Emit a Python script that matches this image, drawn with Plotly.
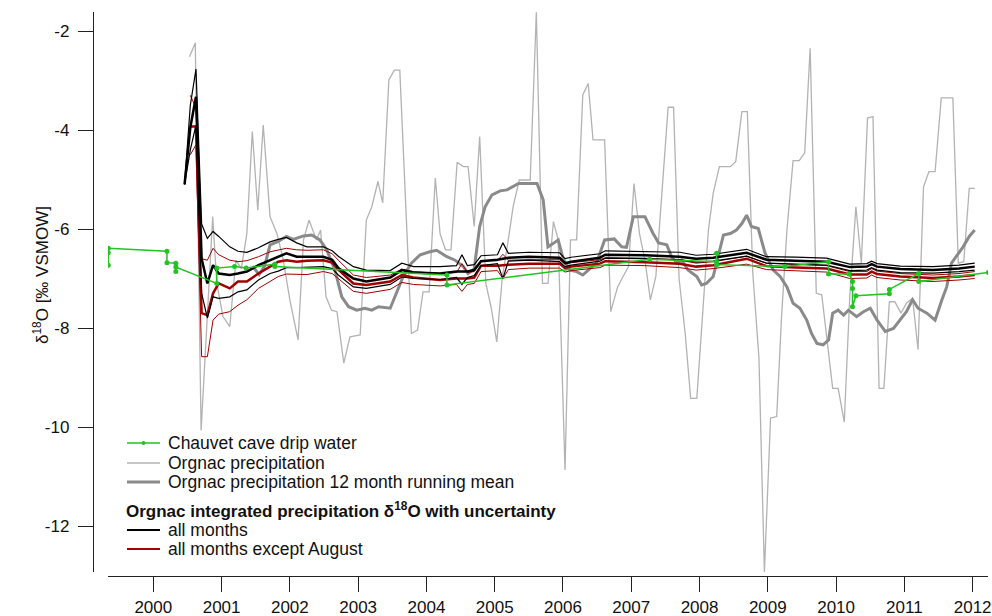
import plotly.graph_objects as go

# ---------------- data ----------------
# Orgnac monthly precipitation d18O (light grey)
P_X = [2000.53, 2000.615, 2000.70, 2000.78, 2000.87, 2000.93, 2001.02, 2001.12, 2001.21, 2001.29, 2001.37,
       2001.45, 2001.53, 2001.61, 2001.71, 2001.81, 2001.90, 2002.00, 2002.12, 2002.20, 2002.28, 2002.39,
       2002.45, 2002.53, 2002.61, 2002.69, 2002.79, 2002.88, 2003.03, 2003.12, 2003.20, 2003.29, 2003.36,
       2003.45, 2003.53, 2003.61, 2003.78, 2003.87, 2003.95, 2004.04, 2004.13, 2004.20, 2004.28, 2004.36,
       2004.45, 2004.54, 2004.61, 2004.70, 2004.78, 2004.87, 2004.95, 2005.03, 2005.11, 2005.19, 2005.27,
       2005.36, 2005.52, 2005.61, 2005.70, 2005.78, 2005.86, 2005.93, 2006.03, 2006.11, 2006.20, 2006.29,
       2006.37, 2006.44, 2006.61, 2006.70, 2006.80, 2006.88, 2006.96, 2007.04, 2007.12, 2007.20, 2007.28,
       2007.36, 2007.45, 2007.54, 2007.62, 2007.70, 2007.79, 2007.87, 2007.96, 2008.05, 2008.13, 2008.20,
       2008.29, 2008.45, 2008.53, 2008.62, 2008.70, 2008.78, 2008.87, 2008.95, 2009.04, 2009.13, 2009.20,
       2009.28, 2009.37, 2009.46, 2009.54, 2009.62, 2009.71, 2009.79, 2009.87, 2009.95, 2010.03, 2010.12,
       2010.20, 2010.29, 2010.37, 2010.46, 2010.54, 2010.63, 2010.70, 2010.78, 2010.86, 2010.95, 2011.03,
       2011.12, 2011.20, 2011.28, 2011.36, 2011.45, 2011.54, 2011.71, 2011.79, 2011.87, 2011.95, 2012.03]
P_Y = [-2.52, -2.24, -10.07, -7.97, -5.75, -7.10, -7.77, -7.97, -6.63, -6.80, -6.09,
       -4.03, -5.62, -3.90, -5.75, -6.09, -6.60, -7.43, -8.24, -6.22, -5.82, -6.22,
       -6.02, -7.37, -7.64, -7.67, -8.71, -8.18, -8.14, -5.82, -5.55, -5.04, -5.47,
       -2.99, -2.79, -2.79, -8.11, -8.04, -7.27, -7.27, -4.97, -6.10, -6.42, -6.42,
       -4.65, -4.74, -4.74, -5.95, -4.13, -7.10, -7.60, -8.28, -7.00, -6.30, -5.55,
       -5.01, -5.01, -1.62, -7.10, -7.10, -5.85, -6.22, -10.87, -6.22, -6.22, -3.29,
       -3.06, -4.20, -4.20, -7.67, -7.17, -6.96, -6.76, -5.08, -6.09, -6.63, -7.43,
       -6.96, -5.20, -3.54, -3.54, -7.00, -8.11, -9.42, -9.42, -7.64, -6.02, -5.28,
       -4.74, -4.74, -4.64, -3.63, -3.63, -6.89, -8.60, -12.93, -9.82, -9.79, -7.80,
       -6.02, -4.62, -4.62, -4.46, -2.35, -7.30, -7.33, -8.30, -9.22, -9.22, -9.90,
       -7.37, -5.55, -6.69, -3.76, -3.73, -9.22, -9.22, -7.47, -7.47, -7.70, -7.50,
       -7.40, -8.44, -5.15, -4.84, -4.84, -3.35, -3.35, -6.69, -6.66, -5.18, -5.18]

# 12 month running mean (thick grey)
RM_X = [2001.45, 2001.55, 2001.63, 2001.71, 2001.83, 2001.95, 2002.05, 2002.20, 2002.32, 2002.44, 2002.54,
        2002.66, 2002.76, 2002.86, 2002.98, 2003.10, 2003.20, 2003.30, 2003.47, 2003.56, 2003.66, 2003.78,
        2003.91, 2004.05, 2004.15, 2004.30, 2004.42, 2004.54, 2004.61, 2004.70, 2004.78, 2004.86, 2004.96,
        2005.08, 2005.18, 2005.35, 2005.62, 2005.71, 2005.78, 2005.86, 2005.93, 2006.00, 2006.10, 2006.20,
        2006.29, 2006.37, 2006.49, 2006.61, 2006.75, 2006.86, 2006.93, 2007.03, 2007.20, 2007.32, 2007.40,
        2007.52, 2007.59, 2007.67, 2007.74, 2007.83, 2007.96, 2008.03, 2008.10, 2008.20, 2008.35, 2008.45,
        2008.54, 2008.62, 2008.69, 2008.76, 2008.86, 2008.96, 2009.08, 2009.18, 2009.28, 2009.37, 2009.47,
        2009.57, 2009.64, 2009.72, 2009.81, 2009.89, 2009.95, 2010.03, 2010.11, 2010.18, 2010.30, 2010.40,
        2010.50, 2010.60, 2010.72, 2010.84, 2010.94, 2011.03, 2011.12, 2011.20, 2011.33, 2011.45, 2011.55,
        2011.62, 2011.69, 2011.79, 2011.86, 2011.95, 2012.03]
RM_Y = [-6.75, -6.92, -6.75, -6.32, -6.25, -6.15, -6.21, -6.14, -6.12, -6.22, -6.42,
        -6.83, -7.37, -7.57, -7.64, -7.60, -7.64, -7.57, -7.60, -7.30, -6.96, -6.69,
        -6.52, -6.46, -6.43, -6.56, -6.63, -6.76, -6.90, -6.80, -5.95, -5.55, -5.31,
        -5.23, -5.21, -5.08, -5.08, -5.41, -6.36, -6.29, -6.22, -6.59, -6.83, -6.86,
        -6.93, -6.83, -6.69, -6.22, -6.20, -6.36, -6.37, -5.75, -5.75, -6.09, -6.28,
        -6.32, -6.56, -6.69, -6.63, -6.83, -6.96, -7.13, -7.10, -6.96, -6.12, -6.09,
        -6.02, -5.89, -5.72, -5.95, -5.99, -6.49, -6.83, -6.96, -7.17, -7.50, -7.60,
        -7.84, -8.11, -8.31, -8.34, -8.24, -7.70, -7.64, -7.74, -7.64, -7.77, -7.67,
        -7.60, -7.84, -8.07, -8.01, -7.84, -7.67, -7.43, -7.60, -7.70, -7.84, -7.43,
        -7.17, -6.69, -6.49, -6.36, -6.15, -6.02]

# integrated precipitation d18O (all months: black, except August: red) with uncertainty
INT_X = [2000.458, 2000.542, 2000.625, 2000.708, 2000.792, 2000.875, 2000.958, 2001.12, 2001.24, 2001.37, 2001.54,
         2001.71, 2001.83, 2001.95, 2002.10, 2002.25, 2002.49, 2002.62, 2002.71, 2002.93, 2003.12, 2003.47,
         2003.64, 2003.81, 2004.20, 2004.44, 2004.52, 2004.60, 2004.70, 2004.80, 2005.04, 2005.12, 2005.20,
         2005.50, 2005.95, 2006.03, 2006.12, 2006.54, 2006.62, 2007.20, 2007.71, 2007.95, 2008.20, 2008.69,
         2008.98, 2009.40, 2009.86, 2010.20, 2010.45, 2010.52, 2010.60, 2010.94, 2011.42, 2011.80, 2012.03]
ALL_MEAN = [-5.10, -3.95, -3.33, -6.60, -7.10, -6.73, -6.90, -6.93, -6.90, -6.86, -6.73,
            -6.63, -6.55, -6.49, -6.56, -6.56, -6.56, -6.62, -6.79, -7.00, -7.06, -6.98,
            -6.83, -6.88, -6.90, -6.86, -6.86, -6.86, -6.83, -6.65, -6.62, -6.60, -6.58,
            -6.56, -6.58, -6.69, -6.66, -6.58, -6.52, -6.53, -6.56, -6.60, -6.58, -6.48,
            -6.62, -6.64, -6.66, -6.77, -6.76, -6.71, -6.76, -6.81, -6.83, -6.80, -6.76]
ALL_UP = [-5.10, -3.50, -2.77, -5.90, -6.19, -6.05, -6.15, -6.36, -6.45, -6.47, -6.38,
          -6.26, -6.21, -6.17, -6.28, -6.36, -6.36, -6.44, -6.55, -6.76, -6.83, -6.84,
          -6.69, -6.76, -6.76, -6.74, -6.52, -6.74, -6.72, -6.54, -6.52, -6.28, -6.49,
          -6.47, -6.48, -6.60, -6.57, -6.50, -6.44, -6.45, -6.47, -6.53, -6.51, -6.41,
          -6.56, -6.57, -6.59, -6.71, -6.70, -6.65, -6.70, -6.75, -6.76, -6.73, -6.69]
ALL_LO = [-5.10, -4.40, -3.90, -7.30, -7.80, -7.37, -7.40, -7.37, -7.27, -7.23, -7.03,
          -6.90, -6.85, -6.78, -6.78, -6.77, -6.76, -6.80, -6.93, -7.17, -7.20, -7.12,
          -6.97, -7.00, -7.02, -6.98, -7.12, -6.98, -6.94, -6.74, -6.70, -7.00, -6.65,
          -6.63, -6.66, -6.76, -6.73, -6.65, -6.59, -6.60, -6.62, -6.67, -6.65, -6.55,
          -6.69, -6.71, -6.73, -6.84, -6.83, -6.78, -6.83, -6.88, -6.89, -6.86, -6.83]
NOAUG_MEAN = [None, -3.93, -3.93, -7.70, -7.74, -7.30, -7.10, -7.20, -7.06, -7.06, -6.90,
              -6.76, -6.66, -6.63, -6.66, -6.64, -6.63, -6.68, -6.82, -7.10, -7.13, -7.06,
              -6.93, -6.98, -7.03, -7.00, -7.00, -7.00, -6.98, -6.74, -6.74, -6.73, -6.72,
              -6.70, -6.70, -6.79, -6.76, -6.70, -6.65, -6.67, -6.70, -6.76, -6.73, -6.60,
              -6.75, -6.78, -6.80, -6.92, -6.92, -6.86, -6.91, -6.96, -6.99, -6.96, -6.93]
NOAUG_UP = [None, -3.30, -3.55, -6.60, -6.63, -6.39, -6.52, -6.63, -6.66, -6.64, -6.56,
            -6.46, -6.42, -6.39, -6.42, -6.43, -6.42, -6.50, -6.63, -6.93, -6.98, -6.93,
            -6.81, -6.86, -6.90, -6.88, -6.70, -6.88, -6.86, -6.64, -6.64, -6.51, -6.63,
            -6.62, -6.62, -6.71, -6.68, -6.62, -6.58, -6.59, -6.63, -6.69, -6.66, -6.55,
            -6.69, -6.72, -6.74, -6.86, -6.86, -6.80, -6.85, -6.90, -6.93, -6.90, -6.86]
NOAUG_LO = [None, -4.50, -4.30, -8.58, -8.58, -7.84, -7.72, -7.67, -7.54, -7.43, -7.20,
            -7.06, -6.96, -6.91, -6.92, -6.92, -6.86, -6.90, -7.00, -7.26, -7.30, -7.22,
            -7.08, -7.12, -7.15, -7.12, -7.26, -7.12, -7.10, -6.86, -6.84, -7.00, -6.82,
            -6.79, -6.79, -6.87, -6.84, -6.78, -6.73, -6.74, -6.78, -6.83, -6.80, -6.71,
            -6.82, -6.85, -6.87, -7.00, -6.99, -6.93, -6.98, -7.03, -7.06, -7.03, -7.00]

# Chauvet cave drip water (green)
CH_X = [1999.34, 1999.34, 1999.34, 2000.20, 2000.20, 2000.33, 2000.33, 2000.33, 2000.93, 2000.93, 2001.19,
        2001.36, 2001.78, 2001.78, 2004.30, 2004.30, 2007.27, 2008.25, 2008.25, 2008.25, 2009.25, 2009.89,
        2009.89, 2010.19, 2010.24, 2010.24, 2010.24, 2010.29, 2010.78, 2010.78, 2011.21, 2011.21, 2012.23]
CH_Y = [-6.73, -6.48, -6.39, -6.45, -6.68, -6.69, -6.86, -6.77, -7.10, -6.79, -6.76,
        -6.79, -6.71, -6.76, -6.93, -7.13, -6.61, -6.66, -6.49, -6.72, -6.76, -6.66,
        -6.91, -6.91, -7.06, -7.20, -7.57, -7.35, -7.31, -7.22, -6.90, -7.06, -6.88]

YEAR_TICKS = list(range(2000, 2013))
Y_TICKS = [-2, -4, -6, -8, -10, -12]

LEGEND_MAIN = ["Chauvet cave drip water", "Orgnac precipitation",
               "Orgnac precipitation 12 month running mean"]
LEGEND_HEAD = "<b>Orgnac integrated precipitation δ<sup>18</sup>O with uncertainty</b>"
LEGEND_SUB = ["all months", "all months except August"]

# ---------------- style ----------------
GREEN = "#22c322"
LGREY = "#b3b3b3"
DGREY = "#8a8a8a"
BLACK = "#000000"
RED = "#a00000"
FONT = "Liberation Sans, Arial, sans-serif"
TXT = "#111111"

W, H = 992, 616
ML, MR, MT, MB = 93, 4, 12, 40
PW, PH = W - ML - MR, H - MT - MB


def px(xp):
    return (xp - ML) / PW


def py(yp):
    return (H - MB - yp) / PH


fig = go.Figure()
fig.add_trace(go.Scatter(x=P_X, y=P_Y, mode="lines", line=dict(color=LGREY, width=1.3), showlegend=False))
fig.add_trace(go.Scatter(x=RM_X, y=RM_Y, mode="lines", line=dict(color=DGREY, width=3), showlegend=False))
for arr in (NOAUG_UP, NOAUG_LO):
    fig.add_trace(go.Scatter(x=INT_X, y=arr, mode="lines", line=dict(color=RED, width=1), showlegend=False))
fig.add_trace(go.Scatter(x=INT_X, y=NOAUG_MEAN, mode="lines", line=dict(color=RED, width=2.5), showlegend=False))
for arr in (ALL_UP, ALL_LO):
    fig.add_trace(go.Scatter(x=INT_X, y=arr, mode="lines", line=dict(color=BLACK, width=1.2), showlegend=False))
fig.add_trace(go.Scatter(x=INT_X, y=ALL_MEAN, mode="lines", line=dict(color=BLACK, width=2.5), showlegend=False))
fig.add_trace(go.Scatter(x=CH_X, y=CH_Y, mode="lines+markers", line=dict(color=GREEN, width=1.5),
                         marker=dict(color=GREEN, size=5, symbol="circle"), showlegend=False))

# axes span the data extent (Igor style, detached axes)
x0 = 2000 + (108 - 153.3) / 68.28
x1 = 2000 + (988 - 153.3) / 68.28
y_top = -2 + (31 - 12) / 49.5
y_bot = -2 - (572 - 31) / 49.5

fig.update_layout(
    width=W, height=H,
    margin=dict(l=ML, r=MR, t=MT, b=MB, autoexpand=False),
    paper_bgcolor="white", plot_bgcolor="white",
    font=dict(family=FONT, size=17, color=TXT),
    showlegend=False,
    xaxis=dict(domain=[(108 - ML) / PW, 1], range=[x0, x1], anchor="free", position=0,
               tickvals=YEAR_TICKS, ticktext=[str(v) for v in YEAR_TICKS],
               showline=True, linecolor="#222222", linewidth=1.3, ticks="outside", ticklen=15,
               tickwidth=1.3, tickcolor="#222222", showgrid=False, zeroline=False,
               tickfont=dict(size=17, family=FONT, color=TXT), automargin=False),
    yaxis=dict(domain=[4 / PH, 1], range=[y_bot, y_top], anchor="free", position=0,
               tickvals=Y_TICKS, ticktext=[str(v) for v in Y_TICKS],
               showline=True, linecolor="#222222", linewidth=1.3, ticks="outside", ticklen=15,
               tickwidth=1.3, tickcolor="#222222", showgrid=False, zeroline=False,
               ticklabelstandoff=5,
               tickfont=dict(size=17, family=FONT, color=TXT), automargin=False),
)

# y-axis title
fig.add_annotation(text="δ<sup>18</sup>O [‰ VSMOW]", xref="paper", yref="paper",
                   x=px(28), y=py(275), textangle=-90, showarrow=False,
                   font=dict(size=17, family=FONT, color=TXT))

# custom legend
rows = [443, 463, 482]
styles = [(GREEN, 1.5), (LGREY, 1.3), (DGREY, 3)]
for (col, w), yy, label in zip(styles, rows, LEGEND_MAIN):
    fig.add_shape(type="line", xref="paper", yref="paper", x0=px(127), x1=px(160), y0=py(yy), y1=py(yy),
                  line=dict(color=col, width=w))
    fig.add_annotation(text=label, xref="paper", yref="paper", x=px(166), y=py(yy), xanchor="left",
                       yanchor="middle", showarrow=False, font=dict(size=17.5, family=FONT, color=TXT))
fig.add_shape(type="circle", xref="paper", yref="paper", x0=px(141.5), x1=px(145.5), y0=py(445), y1=py(441),
              fillcolor=GREEN, line=dict(color=GREEN, width=0))
fig.add_annotation(text=LEGEND_HEAD, xref="paper", yref="paper", x=px(124), y=py(510), xanchor="left",
                   yanchor="middle", showarrow=False, font=dict(size=17, family=FONT, color=TXT))
for (col, yy, label) in zip([BLACK, RED], [530, 549], LEGEND_SUB):
    fig.add_shape(type="line", xref="paper", yref="paper", x0=px(127), x1=px(160), y0=py(yy), y1=py(yy),
                  line=dict(color=col, width=2))
    fig.add_annotation(text=label, xref="paper", yref="paper", x=px(166), y=py(yy), xanchor="left",
                       yanchor="middle", showarrow=False, font=dict(size=17.5, family=FONT, color=TXT))

fig.write_html("out.html")
